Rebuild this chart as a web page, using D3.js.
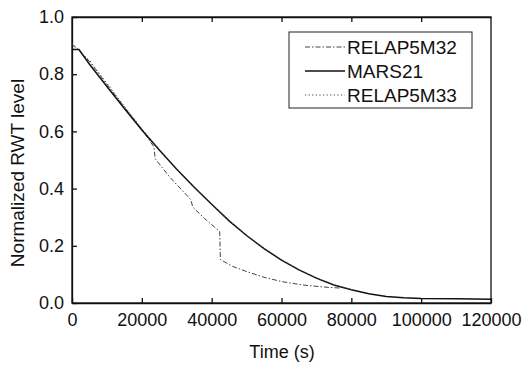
<!DOCTYPE html>
<html>
<head>
<meta charset="utf-8">
<script src="https://cdn.jsdelivr.net/npm/d3@7"></script>
<style>
  html, body { margin: 0; padding: 0; background: #fff; }
  text { font-family: "Liberation Sans", Arial, sans-serif; fill: #111; }
</style>
</head>
<body>
<script>
// basic settings
const width = 522;
const height = 365;
const marginLeft = 72;
const marginRight = 31;
const marginTop = 17;
const marginBottom = 62;

// data (time s, normalized level)
const mars21 = [
  [0, 0.886], [2000, 0.886], [5000, 0.835], [10000, 0.757], [15000, 0.68],
  [20000, 0.605], [25000, 0.535], [30000, 0.468], [35000, 0.405], [40000, 0.345],
  [45000, 0.287], [50000, 0.236], [55000, 0.19], [60000, 0.15], [65000, 0.116],
  [70000, 0.087], [75000, 0.063], [80000, 0.046], [85000, 0.032], [90000, 0.023],
  [95000, 0.018], [100000, 0.016], [110000, 0.015], [120000, 0.013]
];
const relap5m32 = [
  [0, 0.905], [5000, 0.845], [10000, 0.765], [15000, 0.685], [20000, 0.607],
  [23500, 0.545], [23800, 0.505], [28000, 0.44], [34000, 0.362], [34600, 0.335],
  [38000, 0.295], [42300, 0.25], [42500, 0.152], [46000, 0.128], [50000, 0.11],
  [55000, 0.09], [60000, 0.075], [66000, 0.063], [72000, 0.056], [77000, 0.052]
];
const relap5m33 = [
  [0, 0.908], [5000, 0.848], [10000, 0.768], [15000, 0.688], [20000, 0.61],
  [25000, 0.537], [30000, 0.469], [35000, 0.406], [40000, 0.346], [45000, 0.288],
  [50000, 0.237], [55000, 0.191], [60000, 0.151], [65000, 0.117], [70000, 0.088],
  [75000, 0.064], [80000, 0.047]
];
const xTicks = [0, 20000, 40000, 60000, 80000, 100000, 120000];
const yTicks = [0.0, 0.2, 0.4, 0.6, 0.8, 1.0];

const series = [
  { name: 'RELAP5M32', values: relap5m32, dash: '5,2,1.5,2', color: '#444', w: 1 },
  { name: 'MARS21', values: mars21, dash: null, color: '#111', w: 1.5 },
  { name: 'RELAP5M33', values: relap5m33, dash: '1.2,2.4', color: '#444', w: 1 }
];

const svg = d3.select('body').append('svg')
  .attr('width', width)
  .attr('height', height);

const x = d3.scaleLinear().domain([0, 120000]).range([marginLeft, width - marginRight]);
const y = d3.scaleLinear().domain([0, 1]).range([height - marginBottom, marginTop]);

// axes, ticks pointing inward
svg.append('g')
  .attr('transform', `translate(0,${y(0)})`)
  .call(d3.axisBottom(x).tickValues(xTicks).tickSizeInner(-5).tickSizeOuter(0).tickPadding(10).tickFormat(d3.format('d')))
  .call(g => g.selectAll('text').attr('font-size', 18).attr('fill', '#111'));

svg.append('g')
  .attr('transform', `translate(0,${y(1)})`)
  .call(d3.axisTop(x).tickValues(xTicks.slice(1, -1)).tickSizeInner(-5).tickSizeOuter(0).tickFormat(''));

svg.append('g')
  .attr('transform', `translate(${x(0)},0)`)
  .call(d3.axisLeft(y).tickValues(yTicks).tickSizeInner(-5).tickSizeOuter(0).tickPadding(8).tickFormat(d3.format('.1f')))
  .call(g => g.selectAll('text').attr('font-size', 18).attr('fill', '#111'));

svg.selectAll('.domain, .tick line').attr('stroke', '#111').attr('stroke-width', 1.3);

// frame
svg.append('rect')
  .attr('x', x(0)).attr('y', y(1))
  .attr('width', x(120000) - x(0)).attr('height', y(0) - y(1))
  .attr('fill', 'none').attr('stroke', '#111').attr('stroke-width', 1.3);

const line = d3.line().x(d => x(d[0])).y(d => y(d[1]));

svg.selectAll('path.series')
  .data(series)
  .enter().append('path')
  .attr('class', 'series')
  .attr('d', d => line(d.values))
  .attr('fill', 'none')
  .attr('stroke', d => d.color)
  .attr('stroke-width', d => d.w)
  .attr('stroke-dasharray', d => d.dash);

// axis titles
svg.append('text')
  .attr('x', 282).attr('y', 358)
  .attr('text-anchor', 'middle')
  .attr('font-size', 18)
  .text('Time (s)');

svg.append('text')
  .attr('transform', `translate(24,173) rotate(-90)`)
  .attr('text-anchor', 'middle')
  .attr('font-size', 19)
  .text('Normalized RWT level');

// legend
const legend = svg.append('g');
legend.append('rect')
  .attr('x', 289).attr('y', 32).attr('width', 183).attr('height', 76)
  .attr('fill', '#fff').attr('stroke', '#222').attr('stroke-width', 1);

const rows = legend.selectAll('g.row')
  .data(series)
  .enter().append('g')
  .attr('class', 'row')
  .attr('transform', (d, i) => `translate(0,${47 + i * 24})`);

rows.append('line')
  .attr('x1', 305).attr('x2', 345)
  .attr('stroke', d => d.color)
  .attr('stroke-width', d => d.w)
  .attr('stroke-dasharray', d => d.dash);

rows.append('text')
  .attr('x', 347).attr('dy', '0.35em')
  .attr('font-size', 19)
  .text(d => d.name);
</script>
</body>
</html>
